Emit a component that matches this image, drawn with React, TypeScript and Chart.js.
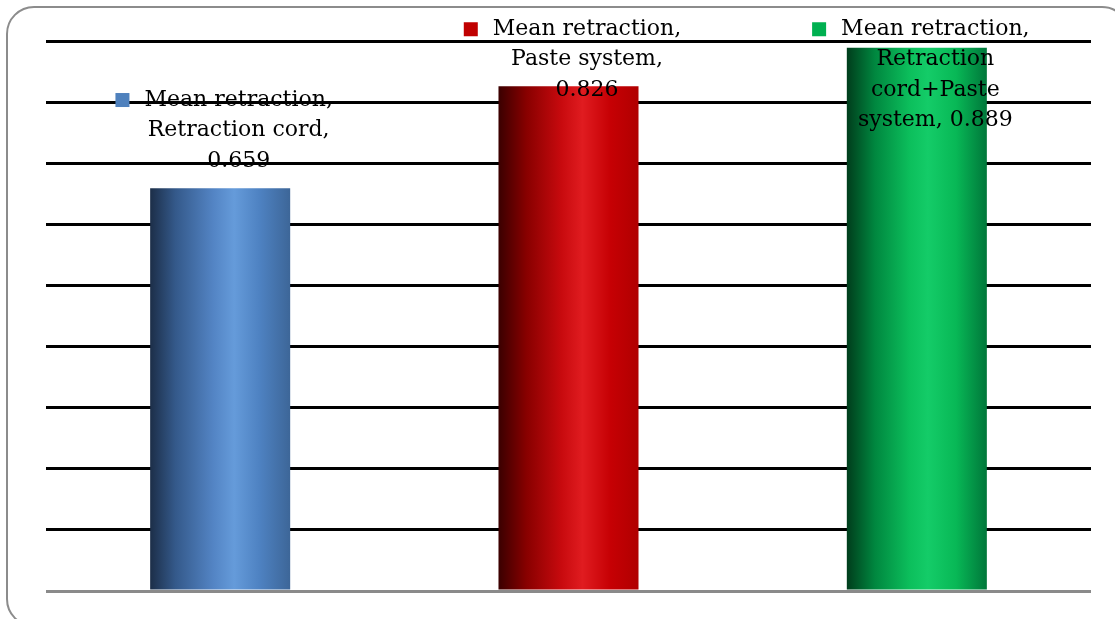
import React, { useEffect, useRef } from "react";
import { Chart, registerables } from "chart.js";

Chart.register(...registerables);

const categories = ["Retraction cord", "Paste system", "Retraction cord+Paste system"];
const seriesName = "Mean retraction";
const values = [0.659, 0.826, 0.889];
const labelLines = [
  ["Mean retraction,", "Retraction cord,", "0.659"],
  ["Mean retraction,", "Paste system,", "0.826"],
  ["Mean retraction,", "Retraction", "cord+Paste", "system, 0.889"],
];
const keyColors = ["#4f81bd", "#c00000", "#00b050"];
const gradientStops: [number, string][][] = [
  [[0, "#1c2e48"], [0.18, "#34598a"], [0.45, "#5384c4"], [0.6, "#659bda"], [0.78, "#4e82c2"], [1, "#3d6698"]],
  [[0, "#3a0000"], [0.2, "#880000"], [0.45, "#c80a0e"], [0.6, "#e01c20"], [0.8, "#c60004"], [1, "#b00000"]],
  [[0, "#003d1c"], [0.2, "#00873f"], [0.45, "#0cbf5c"], [0.58, "#14cc68"], [0.78, "#08b856"], [1, "#00773a"]],
];
const yMax = 0.9;
const yStep = 0.1;
const barFraction = 0.402;

const FONT = "22px 'DejaVu Serif'";
const LINE_H = 30.5;

const labelPlugin = {
  id: "customLabels",
  afterDatasetsDraw(chart: any) {
    const ctx = chart.ctx;
    const meta = chart.getDatasetMeta(0);
    ctx.save();
    ctx.font = FONT;
    ctx.textBaseline = "middle";
    ctx.textAlign = "center";
    ctx.fillStyle = "#000";
    const keySize = 14;
    const gap = 15;
    meta.data.forEach((el: any, i: number) => {
      const lines = labelLines[i];
      const maxW = Math.max(...lines.map((l) => ctx.measureText(l).width));
      const blockW = keySize + gap + maxW;
      const left = el.x + 4 - blockW / 2;
      const textCx = left + keySize + gap + maxW / 2;
      let top = el.y - 12 - lines.length * LINE_H;
      top = Math.max(top, 14);
      lines.forEach((l, j) => {
        const cy = top + LINE_H / 2 + j * LINE_H;
        ctx.fillText(l, textCx, cy);
        if (j === 0) {
          const w = ctx.measureText(l).width;
          const kx = textCx - w / 2 - gap - keySize;
          ctx.fillStyle = keyColors[i];
          ctx.fillRect(kx, cy - keySize / 2, keySize, keySize);
          ctx.fillStyle = "#000";
        }
      });
    });
    ctx.restore();
  },
};

export default function App() {
  const ref = useRef<HTMLCanvasElement>(null);
  useEffect(() => {
    if (!ref.current) return;
    const chart = new Chart(ref.current, {
      type: "bar",
      data: {
        labels: categories,
        datasets: [
          {
            label: seriesName,
            data: values,
            barPercentage: barFraction,
            categoryPercentage: 1,
            backgroundColor: (c: any) => {
              const ch = c.chart;
              const xs = ch.scales.x;
              if (!ch.chartArea || !xs || c.dataIndex === undefined) return keyColors[0];
              const cx = xs.getPixelForValue(c.dataIndex);
              const w = (xs.width / categories.length) * barFraction;
              const g = ch.ctx.createLinearGradient(cx - w / 2, 0, cx + w / 2, 0);
              gradientStops[c.dataIndex].forEach(([o, col]) => g.addColorStop(o, col));
              return g;
            },
            borderWidth: 0,
          },
        ],
      },
      options: {
        responsive: false,
        animation: false,
        layout: { padding: { left: 46, right: 24, top: 41, bottom: 28 } },
        plugins: { legend: { display: false }, tooltip: { enabled: false } },
        scales: {
          x: { display: false },
          y: {
            min: 0,
            max: yMax,
            ticks: { display: false, stepSize: yStep },
            border: { display: false },
            grid: {
              drawTicks: false,
              lineWidth: 3,
              color: (c: any) => (c.tick && c.tick.value === 0 ? "#8a8a8a" : "#000000"),
            },
          },
        },
      },
      plugins: [labelPlugin],
    });
    return () => chart.destroy();
  }, []);
  return (
    <div style={{ position: "absolute", left: 0, top: 0, width: 1115, height: 619, overflow: "hidden", background: "#fff" }}>
      <div
        style={{
          position: "absolute",
          left: 6,
          top: 6,
          width: 1124,
          height: 621,
          border: "2px solid #8c8c8c",
          borderRadius: 28,
          boxSizing: "border-box",
        }}
      />
      <canvas ref={ref} width={1115} height={619} style={{ position: "absolute", left: 0, top: 0 }} />
    </div>
  );
}
